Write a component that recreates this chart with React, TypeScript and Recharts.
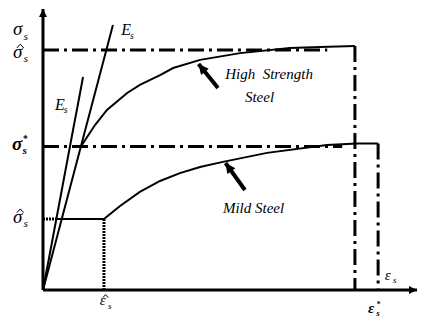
import React from 'react';
import { ComposedChart, Line, XAxis, YAxis, ReferenceLine, ReferenceDot } from 'recharts';

type Pt = { e: number; s: number };

// elastic branches, both start at the origin
const elasticHigh: Pt[] = [{ e: 0, s: 0 }, { e: 18.7, s: 94.3 }];
const elasticMild: Pt[] = [{ e: 0, s: 0 }, { e: 10.7, s: 75.8 }];

// plastic branches
const highCurve: Pt[] = [
  { e: 10.4, s: 51.6 }, { e: 13.9, s: 58.7 }, { e: 17.1, s: 64.1 }, { e: 22.5, s: 70.1 },
  { e: 25.9, s: 73.0 }, { e: 31.3, s: 76.5 }, { e: 34.8, s: 79.0 }, { e: 42.0, s: 81.9 },
  { e: 52.7, s: 84.3 }, { e: 66.0, s: 86.1 }, { e: 74.1, s: 86.5 }, { e: 83.4, s: 86.8 },
];
const mildCurve: Pt[] = [
  { e: 16.3, s: 25.3 }, { e: 20.6, s: 29.9 }, { e: 25.9, s: 34.9 }, { e: 31.3, s: 38.8 },
  { e: 36.6, s: 41.6 }, { e: 42.0, s: 43.8 }, { e: 48.1, s: 45.6 }, { e: 59.9, s: 48.8 },
  { e: 75.9, s: 51.6 }, { e: 84.0, s: 52.1 }, { e: 89.6, s: 52.1 },
];
const mildPlateau: Pt[] = [{ e: 3.7, s: 25.3 }, { e: 16.3, s: 25.3 }];

// dotted guides
const mildPlateauGuide: Pt[] = [{ e: 0, s: 25.3 }, { e: 3.7, s: 25.3 }];
const epsHatGuide: Pt[] = [{ e: 16.3, s: 25.3 }, { e: 16.3, s: 0 }];

// dash-dot guides
const sigmaHatGuide: Pt[] = [{ e: 0, s: 85.4 }, { e: 76, s: 85.4 }];
const highUltGuide: Pt[] = [{ e: 83.4, s: 86.8 }, { e: 83.4, s: 0 }];
const sigmaStarGuide: Pt[] = [{ e: 0, s: 51.1 }, { e: 80, s: 51.1 }];
const mildUltGuide: Pt[] = [{ e: 89.6, s: 52.1 }, { e: 89.6, s: 0 }];

// axes and pointer arrows
const axisY: Pt[] = [{ e: 0, s: 0 }, { e: 0, s: 100 }];
const axisX: Pt[] = [{ e: 0, s: 0 }, { e: 100, s: 0 }];
const highPointer: Pt[] = [{ e: 46.8, s: 71.9 }, { e: 41.6, s: 80.4 }];
const mildPointer: Pt[] = [{ e: 54.0, s: 35.6 }, { e: 48.8, s: 45.2 }];

// symbol labels: base glyph, accent, bold, font size
type Sym = { e: number; s: number; base: string; accent?: 'hat' | 'star'; bold?: boolean; size: number };
const symbols: Sym[] = [
  { e: -8.0, s: 90.6, base: 'σ', size: 19 },
  { e: -8.0, s: 82.6, base: 'σ', accent: 'hat', size: 19 },
  { e: -8.3, s: 49.8, base: 'σ', accent: 'star', bold: true, size: 19 },
  { e: -8.0, s: 24.0, base: 'σ', accent: 'hat', size: 19 },
  { e: 20.9, s: 90.7, base: 'E', size: 16 },
  { e: 3.2, s: 64.1, base: 'E', size: 16 },
  { e: 15.2, s: -5.5, base: 'ε', accent: 'hat', size: 15 },
  { e: 91.4, s: 3.6, base: 'ε', size: 15 },
  { e: 86.9, s: -8.2, base: 'ε', accent: 'star', bold: true, size: 15 },
];

const words = [
  { e: 48.7, s: 75.1, text: 'High  Strength' },
  { e: 54.0, s: 66.9, text: 'Steel' },
  { e: 48.1, s: 27.4, text: 'Mild Steel' },
];

const SERIF = "'Liberation Serif', 'Times New Roman', serif";
const DASH_DOT = '16 5 3 5';

const SymLabel = ({ cx, cy, sym }: { cx: number; cy: number; sym: Sym }) => {
  const z = sym.size;
  const weight = sym.bold ? 'bold' : 'normal';
  return (
    <g style={{ fontFamily: SERIF, fontStyle: 'italic', fontWeight: weight }} fill="#000">
      <text x={cx} y={cy} fontSize={z}>{sym.base}</text>
      <text x={cx + z * 0.55} y={cy + z * 0.22} fontSize={z * 0.6}>s</text>
      {sym.accent === 'hat' && (
        <polyline
          points={`${cx + z * 0.2},${cy - z * 0.52} ${cx + z * 0.38},${cy - z * 0.72} ${cx + z * 0.56},${cy - z * 0.52}`}
          fill="none" stroke="#000" strokeWidth={1} />
      )}
      {sym.accent === 'star' && (
        <text x={cx + z * 0.58} y={cy - z * 0.42} fontSize={z * 0.5} style={{ fontStyle: 'normal' }}>*</text>
      )}
    </g>
  );
};

const segShape = (stroke: number, head: string) => (p: any) => (
  <line x1={p.x1} y1={p.y1} x2={p.x2} y2={p.y2} stroke="#000" strokeWidth={stroke} markerEnd={`url(#${head})`} />
);

const guide = (data: Pt[], dash: string, width: number, key: string) => (
  <Line key={key} data={data} dataKey="s" type="linear" stroke="#000" strokeWidth={width}
    strokeDasharray={dash} dot={false} activeDot={false} isAnimationActive={false} strokeLinecap="butt" />
);

const App = () => (
  <div style={{ position: 'absolute', left: 0, top: 0, background: '#fff' }}>
    <ComposedChart width={423} height={322} margin={{ top: 9, right: 6, bottom: 32, left: 43 }}>
      <defs>
        <marker id="axHead" viewBox="0 0 10 10" refX="10" refY="5" markerWidth="9" markerHeight="8"
          markerUnits="userSpaceOnUse" orient="auto">
          <path d="M0,0 L10,5 L0,10 z" fill="#000" />
        </marker>
        <marker id="ptrHead" viewBox="0 0 10 10" refX="10" refY="5" markerWidth="11" markerHeight="10"
          markerUnits="userSpaceOnUse" orient="auto">
          <path d="M0,0 L10,5 L0,10 z" fill="#000" />
        </marker>
      </defs>
      <XAxis type="number" dataKey="e" domain={[0, 100]} hide />
      <YAxis type="number" dataKey="s" domain={[0, 100]} hide />

      {guide(sigmaHatGuide, DASH_DOT, 3, 'g1')}
      {guide(sigmaStarGuide, DASH_DOT, 3, 'g2')}
      {guide(highUltGuide, DASH_DOT, 3, 'g3')}
      {guide(mildUltGuide, DASH_DOT, 3, 'g4')}
      {guide(mildPlateauGuide, '2 1', 3, 'g5')}
      {guide(epsHatGuide, '2 1', 3, 'g6')}

      {guide(elasticHigh, '', 2, 'l1')}
      {guide(elasticMild, '', 2, 'l2')}
      {guide(highCurve, '', 2, 'l3')}
      {guide(mildCurve, '', 2, 'l4')}
      {guide(mildPlateau, '', 2, 'l5')}

      <ReferenceLine segment={[{ x: axisY[0].e, y: axisY[0].s }, { x: axisY[1].e, y: axisY[1].s }]}
        ifOverflow="visible" shape={segShape(3, 'axHead')} />
      <ReferenceLine segment={[{ x: axisX[0].e, y: axisX[0].s }, { x: axisX[1].e, y: axisX[1].s }]}
        ifOverflow="visible" shape={segShape(3, 'axHead')} />
      <ReferenceLine segment={[{ x: highPointer[0].e, y: highPointer[0].s }, { x: highPointer[1].e, y: highPointer[1].s }]}
        ifOverflow="visible" shape={segShape(4, 'ptrHead')} />
      <ReferenceLine segment={[{ x: mildPointer[0].e, y: mildPointer[0].s }, { x: mildPointer[1].e, y: mildPointer[1].s }]}
        ifOverflow="visible" shape={segShape(4, 'ptrHead')} />

      {symbols.map((sym, i) => (
        <ReferenceDot key={`sym-${i}`} x={sym.e} y={sym.s} r={0} ifOverflow="visible"
          shape={(p: any) => <SymLabel cx={p.cx} cy={p.cy} sym={sym} />} />
      ))}
      {words.map((w, i) => (
        <ReferenceDot key={`w-${i}`} x={w.e} y={w.s} r={0} ifOverflow="visible"
          shape={(p: any) => (
            <text x={p.cx} y={p.cy} fontSize={15} fill="#000"
              style={{ fontFamily: SERIF, fontStyle: 'italic', whiteSpace: 'pre' }}>{w.text}</text>
          )} />
      ))}
    </ComposedChart>
  </div>
);

export default App;
